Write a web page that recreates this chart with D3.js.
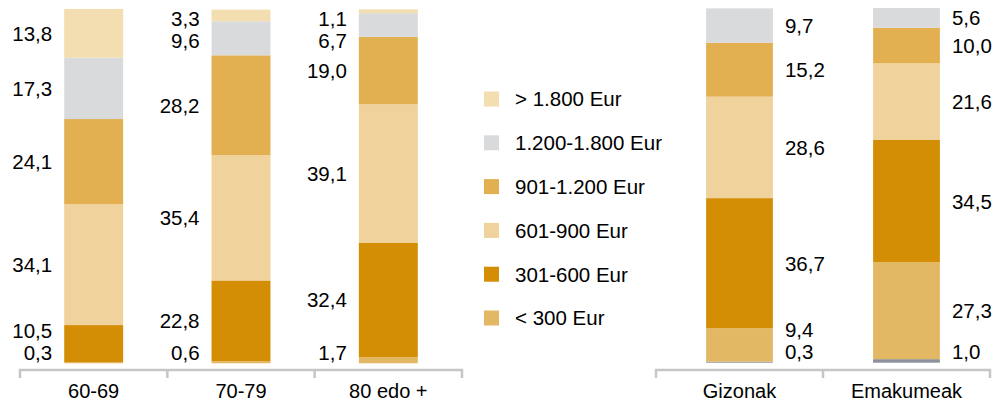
<!DOCTYPE html>
<html>
<head>
<meta charset="utf-8">
<script src="https://cdn.jsdelivr.net/npm/d3@7"></script>
<style>
  html, body { margin: 0; padding: 0; background: #fff; }
  svg { display: block; font-family: "Liberation Sans", Arial, Helvetica, sans-serif; }
</style>
</head>
<body>
<svg id="chart" width="1002" height="401"></svg>
<script>
// ---------- data ----------
const leftCategories = ["60-69", "70-79", "80 edo +"];
const rightCategories = ["Gizonak", "Emakumeak"];

const legendLabels = ["> 1.800 Eur", "1.200-1.800 Eur", "901-1.200 Eur", "601-900 Eur", "301-600 Eur", "< 300 Eur"];

// left panel series (bottom -> top)
const leftLt300  = [0.3, 0.6, 1.7];
const left301    = [10.5, 22.8, 32.4];
const left601    = [34.1, 35.4, 39.1];
const left901    = [24.1, 28.2, 19.0];
const left1200   = [17.3, 9.6, 6.7];
const left1800   = [13.8, 3.3, 1.1];

// right panel series (bottom -> top)
const rightOther = [0.3, 1.0];
const rightLt300 = [9.4, 27.3];
const right301   = [36.7, 34.5];
const right601   = [28.6, 21.6];
const right901   = [15.2, 10.0];
const right1200  = [9.7, 5.6];

// ---------- styles ----------
const colors = {
  other: "#8b909a",
  lt300: "#e3b865",
  s301: "#d48e06",
  s601: "#efd29c",
  s901: "#e2b050",
  s1200: "#d9dadc",
  s1800: "#f3deb2"
};
const legendColors = [colors.s1800, colors.s1200, colors.s901, colors.s601, colors.s301, colors.lt300];

const FONT = 20.5;
const svg = d3.select("#chart");

function buildRows(cats, seriesList) {
  return cats.map((c, i) => {
    let acc = 0;
    const segs = seriesList.map(s => {
      const v = s.values[i];
      const seg = { key: s.key, value: v, y0: acc, y1: acc + v, color: s.color };
      acc += v;
      return seg;
    });
    return { cat: c, segs };
  });
}

function placeLabels(segs, y, top, bottom, gap) {
  const pos = segs.map(s => (y(s.y0) + y(s.y1)) / 2);
  pos[0] = Math.min(pos[0], bottom - 11);
  for (let i = 1; i < pos.length; i++) pos[i] = Math.min(pos[i], pos[i - 1] - gap);
  const n = pos.length - 1;
  pos[n] = Math.max(pos[n], top + 9);
  for (let i = n - 1; i >= 0; i--) pos[i] = Math.max(pos[i], pos[i + 1] + gap);
  return pos;
}

function drawPanel(opts) {
  const { cats, rows, x0, x1, yTop, yBottom, axisY, labelSide, gap } = opts;
  const x = d3.scaleBand().domain(cats).range([x0, x1]).paddingInner(0.6).paddingOuter(0.3);
  const y = d3.scaleLinear().domain([0, 100]).range([yBottom, yTop]);
  const g = svg.append("g");

  const bars = g.selectAll("g.bar").data(rows).join("g").attr("class", "bar");
  bars.selectAll("rect").data(d => d.segs.map(s => ({ ...s, cat: d.cat }))).join("rect")
    .attr("x", d => x(d.cat))
    .attr("width", x.bandwidth())
    .attr("y", d => y(d.y1))
    .attr("height", d => Math.max(0, y(d.y0) - y(d.y1)))
    .attr("fill", d => d.color);

  rows.forEach(r => {
    const pos = placeLabels(r.segs, y, yTop, yBottom, gap);
    const lx = labelSide === "left" ? x(r.cat) - 12 : x(r.cat) + x.bandwidth() + 12;
    g.selectAll(null).data(r.segs).join("text")
      .attr("x", lx)
      .attr("y", (d, i) => pos[i])
      .attr("dy", "0.36em")
      .attr("text-anchor", labelSide === "left" ? "end" : "start")
      .attr("font-size", FONT)
      .attr("fill", "#000")
      .text(d => d3.format(".1f")(d.value).replace(".", ","));
  });

  // axis: bracket line with ticks at band boundaries
  const ax = g.append("g").attr("transform", `translate(0,${axisY})`);
  const edges = d3.range(cats.length + 1).map(i => x0 + (x1 - x0) * i / cats.length);
  ax.append("path")
    .attr("d", `M${x0},8V0H${x1}V8`)
    .attr("fill", "none")
    .attr("stroke", "#c6c6c6")
    .attr("stroke-width", 2.5);
  ax.selectAll("line.tick").data(edges.slice(1, -1)).join("line")
    .attr("x1", d => d).attr("x2", d => d)
    .attr("y1", 0).attr("y2", 8)
    .attr("stroke", "#c6c6c6").attr("stroke-width", 2.5);
  ax.selectAll("text").data(cats).join("text")
    .attr("x", d => x(d) + x.bandwidth() / 2)
    .attr("y", 20.5)
    .attr("dy", "0.36em")
    .attr("text-anchor", "middle")
    .attr("font-size", 20)
    .attr("fill", "#000")
    .text(d => d);
}

const leftRows = buildRows(leftCategories, [
  { key: "< 300 Eur", values: leftLt300, color: colors.lt300 },
  { key: "301-600 Eur", values: left301, color: colors.s301 },
  { key: "601-900 Eur", values: left601, color: colors.s601 },
  { key: "901-1.200 Eur", values: left901, color: colors.s901 },
  { key: "1.200-1.800 Eur", values: left1200, color: colors.s1200 },
  { key: "> 1.800 Eur", values: left1800, color: colors.s1800 }
]);

const rightRows = buildRows(rightCategories, [
  { key: "other", values: rightOther, color: colors.other },
  { key: "< 300 Eur", values: rightLt300, color: colors.lt300 },
  { key: "301-600 Eur", values: right301, color: colors.s301 },
  { key: "601-900 Eur", values: right601, color: colors.s601 },
  { key: "901-1.200 Eur", values: right901, color: colors.s901 },
  { key: "1.200-1.800 Eur", values: right1200, color: colors.s1200 }
]);

drawPanel({ cats: leftCategories, rows: leftRows, x0: 20, x1: 462, yTop: 9.3, yBottom: 363.3, axisY: 370, labelSide: "left", gap: 22 });
drawPanel({ cats: rightCategories, rows: rightRows, x0: 656, x1: 990, yTop: 8, yBottom: 362.7, axisY: 370, labelSide: "right", gap: 22 });

// legend
const legend = svg.append("g").attr("transform", "translate(484,99)");
const li = legend.selectAll("g").data(legendLabels).join("g")
  .attr("transform", (d, i) => `translate(0,${i * 43.8})`);
li.append("rect").attr("x", 0).attr("y", -7.5).attr("width", 15).attr("height", 15)
  .attr("fill", (d, i) => legendColors[i]);
li.append("text").attr("x", 31).attr("y", 0).attr("dy", "0.36em")
  .attr("font-size", FONT).attr("fill", "#000").text(d => d);
</script>
</body>
</html>
